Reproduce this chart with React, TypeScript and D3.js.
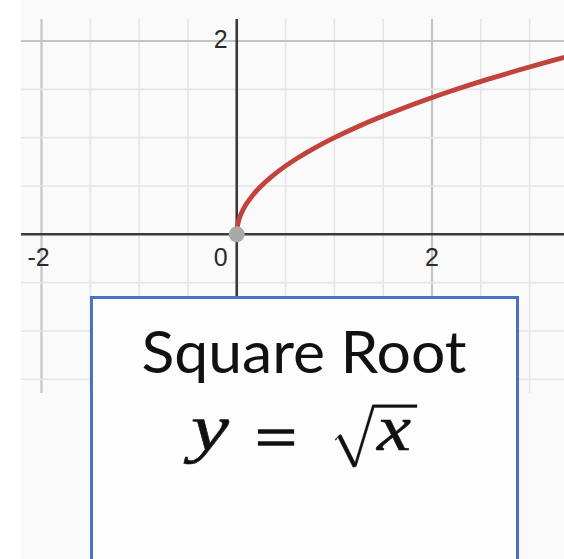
import React from "react";
import * as d3 from "d3";

const W = 564;
const H = 559;

// grid lines (graph units)
const xGrid = [-2, -1.5, -1, -0.5, 0.5, 1, 1.5, 2, 2.5, 3];
const yGrid = [2, 1.5, 1, 0.5, -0.5, -1, -1.5];
const majorTicks = [-2, 2];
const xLabels = [-2, 2];
const yLabels = [2];

// points
const curveY = [0, 0.1, 0.2, 0.3, 0.4, 0.5, 0.6, 0.7, 0.8, 0.9, 1, 1.1, 1.2, 1.3, 1.4, 1.5, 1.6, 1.7, 1.8, 1.9];
const curveX = [0, 0.01, 0.04, 0.09, 0.16, 0.25, 0.36, 0.49, 0.64, 0.81, 1, 1.21, 1.44, 1.69, 1.96, 2.25, 2.56, 2.89, 3.24, 3.61];

const title = "Square Root";

const plot = { left: 21, top: 19, right: W, bottom: 393 };

// radical sign outline (thick down stroke, thin up stroke, vinculum)
const radical: [number, number][] = [
  [335, 439.5],
  [340, 434.4],
  [341.3, 435.1],
  [355, 462.5],
  [372.5, 404.8],
  [417, 404.8],
  [417, 407.4],
  [374.2, 407.4],
  [356.2, 466.6],
  [353, 467.2],
  [337.8, 437],
  [336, 440.2],
];

export default function App() {
  const x = d3.scaleLinear().domain([-2, 2]).range([41.5, 432]);
  const y = d3.scaleLinear().domain([0, 2]).range([234.3, 41]);

  const pts = curveX.map((v, i) => [v, curveY[i]] as [number, number]);
  const line = d3
    .line<[number, number]>()
    .x((d) => x(d[0]))
    .y((d) => y(d[1]))
    .curve(d3.curveMonotoneY);

  const labelStyle = { fontFamily: "Liberation Sans, Arial, sans-serif", fontSize: 25, fill: "#2b2b2b" };
  const gridColor = (v: number) => (majorTicks.includes(v) ? "#c4c4c4" : "#e5e5e5");
  const gridWidth = (v: number) => (majorTicks.includes(v) ? 2.2 : 1.6);

  return (
    <svg width={W} height={H} style={{ position: "absolute", left: 0, top: 0 }}>
      <defs>
        <clipPath id="plotClip">
          <rect x={plot.left} y={plot.top} width={plot.right - plot.left} height={plot.bottom - plot.top} />
        </clipPath>
      </defs>
      <rect width={W} height={H} fill="#fff" />
      <rect x={plot.left} y={0} width={W - plot.left} height={H} fill="#fafafa" />

      {xGrid.map((v) => (
        <line key={"gx" + v} x1={x(v)} x2={x(v)} y1={plot.top} y2={plot.bottom} stroke={gridColor(v)} strokeWidth={gridWidth(v)} />
      ))}
      {yGrid.map((v) => (
        <line key={"gy" + v} x1={plot.left} x2={plot.right} y1={y(v)} y2={y(v)} stroke={gridColor(v)} strokeWidth={gridWidth(v)} />
      ))}

      {/* axes */}
      <line x1={plot.left} x2={plot.right} y1={y(0)} y2={y(0)} stroke="#3a3a3a" strokeWidth={2.6} />
      <line x1={x(0)} x2={x(0)} y1={plot.top} y2={H} stroke="#3a3a3a" strokeWidth={2.6} />

      {/* tick labels */}
      {xLabels.map((v) => (
        <text key={"lx" + v} x={x(v) + (v < 0 ? -3 : 0)} y={266} textAnchor="middle" {...labelStyle}>
          {v < 0 ? "-" + Math.abs(v) : v}
        </text>
      ))}
      <text x={x(0) - 9} y={266} textAnchor="end" {...labelStyle}>
        0
      </text>
      {yLabels.map((v) => (
        <text key={"ly" + v} x={x(0) - 9} y={y(v) + 7} textAnchor="end" {...labelStyle}>
          {v}
        </text>
      ))}

      <g clipPath="url(#plotClip)">
        <path d={line(pts) || ""} fill="none" stroke="#c2423c" strokeWidth={4.8} strokeLinecap="round" />
      </g>
      <circle cx={x(0)} cy={y(0)} r={8} fill="#a9a9a9" />

      {/* caption box */}
      <rect x={91.5} y={297.5} width={426} height={300} fill="#fdfdfd" stroke="#4a72c4" strokeWidth={3} />
      <text
        x={304}
        y={373}
        textAnchor="middle"
        fontFamily="Lato, 'Open Sans', sans-serif"
        fontSize={58}
        fill="#111"
        textLength={325}
        lengthAdjust="spacingAndGlyphs"
      >
        {title}
      </text>
      <g fontFamily="'Liberation Serif', 'Times New Roman', serif" fill="#111" stroke="#111">
        <text x={191} y={450} fontSize={65} fontStyle="italic" strokeWidth={0.5} textLength={38} lengthAdjust="spacingAndGlyphs">
          y
        </text>
        <text x={255} y={458} fontSize={62} strokeWidth={1.3} textLength={42} lengthAdjust="spacingAndGlyphs">
          =
        </text>
        <path d={d3.line()(radical) + "Z"} strokeWidth={0.4} />
        <text x={377} y={450} fontSize={65} fontStyle="italic" strokeWidth={0.5} textLength={34} lengthAdjust="spacingAndGlyphs">
          x
        </text>
      </g>
    </svg>
  );
}
